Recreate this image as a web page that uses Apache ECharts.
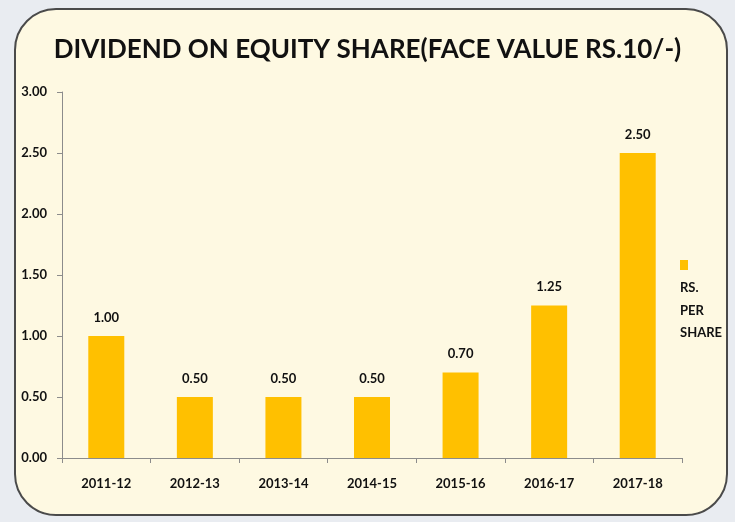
<!DOCTYPE html>
<html>
<head>
<meta charset="utf-8">
<script src="https://cdn.jsdelivr.net/npm/echarts@6/dist/echarts.min.js"></script>
<style>
  html, body { margin: 0; padding: 0; }
  body { width: 735px; height: 522px; background: #e9ecf1; position: relative; overflow: hidden; }
  #panel {
    position: absolute; left: 14px; top: 8px; width: 710px; height: 504px;
    background: #fef9e2; border: 2px solid #4a4a4a; border-radius: 42px;
  }
  #main { position: absolute; left: 0; top: 0; width: 735px; height: 522px; }
</style>
</head>
<body>
<div id="panel"></div>
<div id="main"></div>
<script>
// 数据
var years = ['2011-12', '2012-13', '2013-14', '2014-15', '2015-16', '2016-17', '2017-18'];
var dividend = [1.00, 0.50, 0.50, 0.50, 0.70, 1.25, 2.50];
var seriesName = 'RS. PER SHARE';

var chart = echarts.init(document.getElementById('main'));
var font = 'Lato, "Open Sans", sans-serif';

var option = {
  backgroundColor: 'transparent',
  textStyle: { fontFamily: font },
  title: {
    text: 'DIVIDEND ON EQUITY SHARE(FACE VALUE RS.10/-)',
    left: 'center',
    top: 32,
    textStyle: { fontFamily: font, fontSize: 26, fontWeight: 'bold', color: '#111' }
  },
  legend: {
    data: [seriesName],
    left: 675,
    top: 259,
    icon: 'none',
    itemWidth: 0,
    itemGap: 0,
    padding: 0,
    formatter: function () {
      return '{sq|}\n{gap|}\n{t|RS.}\n{t|PER}\n{t|SHARE}';
    },
    textStyle: {
      rich: {
        sq: { backgroundColor: '#ffc000', width: 8, height: 10, lineHeight: 10, align: 'left' },
        gap: { height: 7, lineHeight: 7 },
        t: { fontFamily: font, fontSize: 13, fontWeight: 'bold', color: '#111', lineHeight: 22.5, align: 'left' }
      }
    }
  },
  grid: { left: 62, right: 53, top: 92, bottom: 64, containLabel: false },
  xAxis: {
    type: 'category',
    data: years,
    axisLine: { lineStyle: { color: '#8c8c8c', width: 1 } },
    axisTick: { show: true, length: 5, lineStyle: { color: '#8c8c8c' } },
    axisLabel: { fontFamily: font, fontSize: 13, fontWeight: 'bold', color: '#111', margin: 19 }
  },
  yAxis: {
    type: 'value',
    min: 0,
    max: 3,
    interval: 0.5,
    splitLine: { show: false },
    axisLine: { show: true, lineStyle: { color: '#8c8c8c', width: 1 } },
    axisTick: { show: true, length: 5, lineStyle: { color: '#8c8c8c' } },
    axisLabel: {
      fontFamily: font, fontSize: 13, fontWeight: 'bold', color: '#111', margin: 15,
      formatter: function (v) { return v.toFixed(2); }
    }
  },
  series: [{
    name: seriesName,
    type: 'bar',
    data: dividend,
    barWidth: 36,
    itemStyle: { color: '#ffc000' },
    label: {
      show: true,
      position: 'top',
      distance: 12,
      fontFamily: font, fontSize: 13, fontWeight: 'bold', color: '#111',
      formatter: function (p) { return p.value.toFixed(2); }
    }
  }]
};

chart.setOption(option);
</script>
</body>
</html>
